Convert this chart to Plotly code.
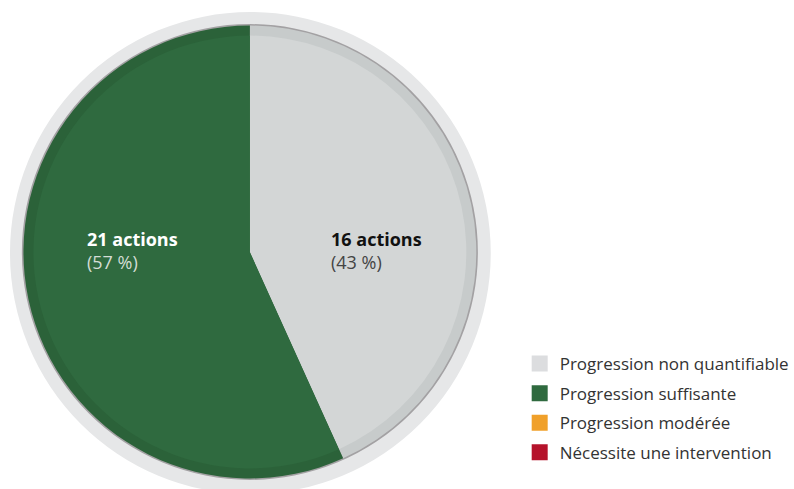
import plotly.graph_objects as go

W, H = 794, 489

# Data
categories = ["Progression non quantifiable", "Progression suffisante",
              "Progression modérée", "Nécessite une intervention"]
counts = [16, 21, 0, 0]
colors = ["#dcdddf", "#2f6a3f", "#f0a02a", "#b5132b"]
slice_colors = ["#d3d6d6", "#2f6a3f", "#f0a02a", "#b5132b"]
edge_colors = ["#c7cbcb", "#2b6239", "#e0931f", "#a31127"]

total = sum(counts)
pcts = [round(100 * c / total) for c in counts]


def dom(cx, cy, r):
    return dict(x=[(cx - r) / W, (cx + r) / W], y=[1 - (cy + r) / H, 1 - (cy - r) / H])


CX, CY = 250.5, 252
fig = go.Figure()

# thin outline
fig.add_trace(go.Pie(values=[1], labels=["o"], marker=dict(colors=["#a3a1a3"], line=dict(width=0)),
                     domain=dom(CX, CY, 228.5), textinfo="none", hoverinfo="skip",
                     showlegend=False, sort=False))
# darker edge band
fig.add_trace(go.Pie(values=counts, labels=categories, marker=dict(colors=edge_colors, line=dict(width=0)),
                     domain=dom(CX, CY, 227), textinfo="none", hoverinfo="skip",
                     showlegend=False, sort=False, direction="clockwise", rotation=0))
# main slices
fig.add_trace(go.Pie(values=counts, labels=categories, marker=dict(colors=slice_colors, line=dict(width=0)),
                     domain=dom(CX, CY, 217), textinfo="none", hoverinfo="label+value",
                     showlegend=False, sort=False, direction="clockwise", rotation=0))

# legend entries
for i, (cat, col) in enumerate(zip(categories, colors)):
    fig.add_trace(go.Scatter(x=[None], y=[None], mode="markers", name=cat,
                             legendgroup=f"g{i}",
                             marker=dict(symbol="square", size=16, color=col)))

# slice labels
label_specs = [
    (1, 85 / W, "#ffffff", "#d3ddd5"),
    (0, 330 / W, "#111111", "#444444"),
]
for idx, xpos, c1, c2 in label_specs:
    fig.add_annotation(
        x=xpos, y=1 - 251 / H, xref="paper", yref="paper",
        xanchor="left", yanchor="middle", align="left", showarrow=False,
        text=f"<b>{counts[idx]} actions</b><br><span style='color:{c2}'>({pcts[idx]} %)</span>",
        font=dict(family="Open Sans", size=18, color=c1),
    )

fig.update_layout(
    width=W, height=H,
    margin=dict(l=0, r=0, t=0, b=0),
    paper_bgcolor="white", plot_bgcolor="white",
    xaxis=dict(visible=False), yaxis=dict(visible=False),
    shapes=[dict(type="circle", xref="paper", yref="paper", layer="below",
                 x0=(251 - 241) / W, x1=(251 + 241) / W,
                 y0=1 - (253 + 241) / H, y1=1 - (253 - 241) / H,
                 fillcolor="#e6e7e8", line=dict(width=0))],
    legend=dict(x=521 / W, y=1 - 346 / H, xanchor="left", yanchor="top",
                font=dict(family="Open Sans", size=17, color="#333333"),
                tracegroupgap=4.5, bgcolor="rgba(0,0,0,0)"),
    font=dict(family="Open Sans"),
)

fig.write_html("out.html", config={"displayModeBar": False},
               post_script="document.body.style.margin='0';document.body.style.overflow='hidden';")
